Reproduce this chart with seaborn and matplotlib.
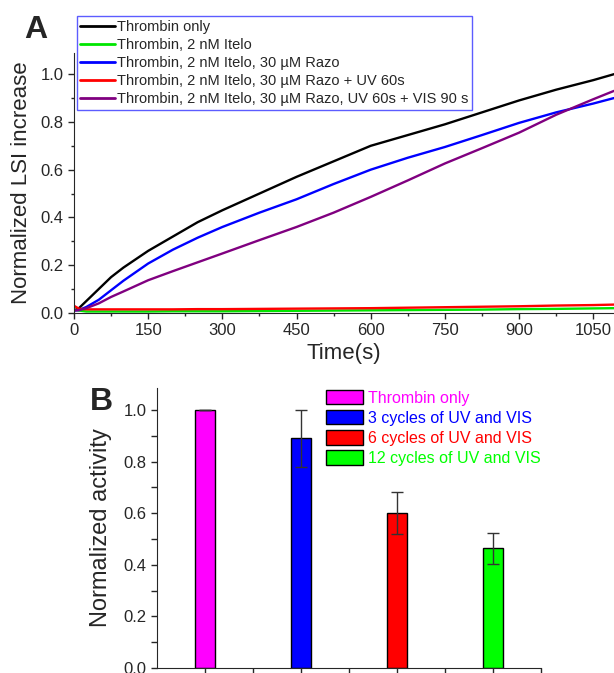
import numpy as np
import pandas as pd
import matplotlib
matplotlib.use("Agg")
import matplotlib.pyplot as plt
import seaborn as sns
from matplotlib.ticker import MultipleLocator, FixedLocator

sns.set_style("ticks")
plt.rcParams['font.family'] = ['Liberation Sans', 'DejaVu Sans']

# ---- panel A data ----
time_s = [0, 10, 25, 50, 75, 100, 150, 200, 250, 300, 375, 450, 525, 600,
          675, 750, 825, 900, 975, 1050, 1092]
thrombin_only = [0.01, 0.02, 0.05, 0.10, 0.15, 0.19, 0.26, 0.32, 0.38, 0.43,
                 0.50, 0.57, 0.635, 0.70, 0.745, 0.79, 0.84, 0.89, 0.935, 0.975, 1.0]
itelo = [0.015, 0.01, 0.006, 0.006, 0.006, 0.006, 0.006, 0.007, 0.007, 0.007,
         0.008, 0.009, 0.01, 0.011, 0.012, 0.013, 0.014, 0.016, 0.017, 0.019, 0.02]
itelo_razo = [0.01, 0.012, 0.025, 0.055, 0.095, 0.135, 0.207, 0.265, 0.315, 0.36,
              0.42, 0.476, 0.54, 0.60, 0.65, 0.695, 0.745, 0.796, 0.84, 0.877, 0.90]
itelo_razo_uv = [0.03, 0.018, 0.015, 0.015, 0.015, 0.015, 0.015, 0.015, 0.016, 0.016,
                 0.017, 0.018, 0.019, 0.02, 0.022, 0.024, 0.026, 0.028, 0.031, 0.033, 0.035]
itelo_razo_uv_vis = [0.01, 0.012, 0.02, 0.04, 0.067, 0.09, 0.137, 0.175, 0.212, 0.249,
                     0.305, 0.36, 0.42, 0.486, 0.555, 0.626, 0.69, 0.755, 0.83, 0.895, 0.93]

series_labels = ["Thrombin only",
                 "Thrombin, 2 nM Itelo",
                 "Thrombin, 2 nM Itelo, 30 \u00b5M Razo",
                 "Thrombin, 2 nM Itelo, 30 \u00b5M Razo + UV 60s",
                 "Thrombin, 2 nM Itelo, 30 \u00b5M Razo, UV 60s + VIS 90 s"]
series_values = [thrombin_only, itelo, itelo_razo, itelo_razo_uv, itelo_razo_uv_vis]
line_colors = ["#000000", "#00e600", "#0000ff", "#ff0000", "#800080"]

# ---- panel B data ----
conditions = ["Thrombin only", "3 cycles of UV and VIS",
              "6 cycles of UV and VIS", "12 cycles of UV and VIS"]
activity = [1.0, 0.89, 0.60, 0.465]
activity_err = [0.0, 0.11, 0.082, 0.06]
bar_colors = ["#ff00ff", "#0000ff", "#ff0000", "#00ff00"]

df_a = pd.concat([pd.DataFrame({"time": time_s, "value": v, "series": lab})
                  for lab, v in zip(series_labels, series_values)])
df_b = pd.DataFrame({"condition": conditions, "activity": activity})

fig = plt.figure(figsize=(6.14, 6.73), dpi=100)

# ---------------- panel A ----------------
ax1 = fig.add_axes([0.1205, 0.535, 0.8795, 0.386])
sns.lineplot(data=df_a, x="time", y="value", hue="series", palette=line_colors,
             hue_order=series_labels, linewidth=1.7, ax=ax1, legend=False)
ax1.set_xlim(0, 1092)
ax1.set_ylim(0, 1.088)
ax1.xaxis.set_major_locator(MultipleLocator(150))
ax1.xaxis.set_minor_locator(MultipleLocator(75))
ax1.yaxis.set_major_locator(MultipleLocator(0.2))
ax1.yaxis.set_minor_locator(MultipleLocator(0.1))
ax1.yaxis.set_major_formatter(matplotlib.ticker.FormatStrFormatter("%.1f"))
ax1.tick_params(labelsize=12, length=4, width=1)
ax1.tick_params(which="minor", length=2.5, width=1)
ax1.set_xlabel("Time(s)", fontsize=16, labelpad=3)
ax1.set_ylabel("Normalized LSI increase", fontsize=16, labelpad=6)
for s in ["top", "right"]:
    ax1.spines[s].set_visible(False)

handles = [plt.Line2D([], [], color=c, lw=2) for c in line_colors]
leg = fig.legend(handles, series_labels, loc="upper left",
                 bbox_to_anchor=(0.125, 0.976), fontsize=10.5, frameon=True,
                 fancybox=False, edgecolor="#3333ff", handlelength=2.4,
                 handletextpad=0.1, labelspacing=0.28, borderpad=0.25,
                 borderaxespad=0)
leg.get_frame().set_linewidth(1.0)

fig.text(0.058, 0.955, "A", fontsize=23, fontweight="bold", ha="center", va="center")

# ---------------- panel B ----------------
ax2 = fig.add_axes([0.2557, 0.0074, 0.6255, 0.416])
sns.barplot(data=df_b, x="condition", y="activity", hue="condition",
            palette=bar_colors, saturation=1, width=0.2, edgecolor="black",
            linewidth=1, ax=ax2, legend=False)
ax2.errorbar(range(len(conditions)), activity, yerr=activity_err, fmt="none",
             ecolor="#333333", elinewidth=1, capsize=4.5, capthick=1)
ax2.set_xlim(-0.5, 3.5)
ax2.set_ylim(0, 1.085)
ax2.xaxis.set_major_locator(FixedLocator([0, 1, 2, 3]))
ax2.xaxis.set_minor_locator(FixedLocator([0.5, 1.5, 2.5, 3.5]))
ax2.set_xticklabels([])
ax2.yaxis.set_major_locator(MultipleLocator(0.2))
ax2.yaxis.set_minor_locator(MultipleLocator(0.1))
ax2.yaxis.set_major_formatter(matplotlib.ticker.FormatStrFormatter("%.1f"))
ax2.tick_params(labelsize=12, length=4, width=1)
ax2.tick_params(which="minor", length=4, width=1)
ax2.set_xlabel("")
ax2.set_ylabel("Normalized activity", fontsize=17, labelpad=8)
for s in ["top", "right"]:
    ax2.spines[s].set_visible(False)

patches = [matplotlib.patches.Patch(facecolor=c, edgecolor="black", lw=1)
           for c in bar_colors]
fig.legend(patches, conditions, loc="upper left", bbox_to_anchor=(0.531, 0.421),
           fontsize=11.5, frameon=False, labelcolor=bar_colors, handlelength=2.3,
           handleheight=1.05, handletextpad=0.3, labelspacing=0.26,
           borderpad=0, borderaxespad=0)

fig.text(0.166, 0.403, "B", fontsize=23, fontweight="bold", ha="center", va="center")

fig.savefig("out.png", dpi=100)
